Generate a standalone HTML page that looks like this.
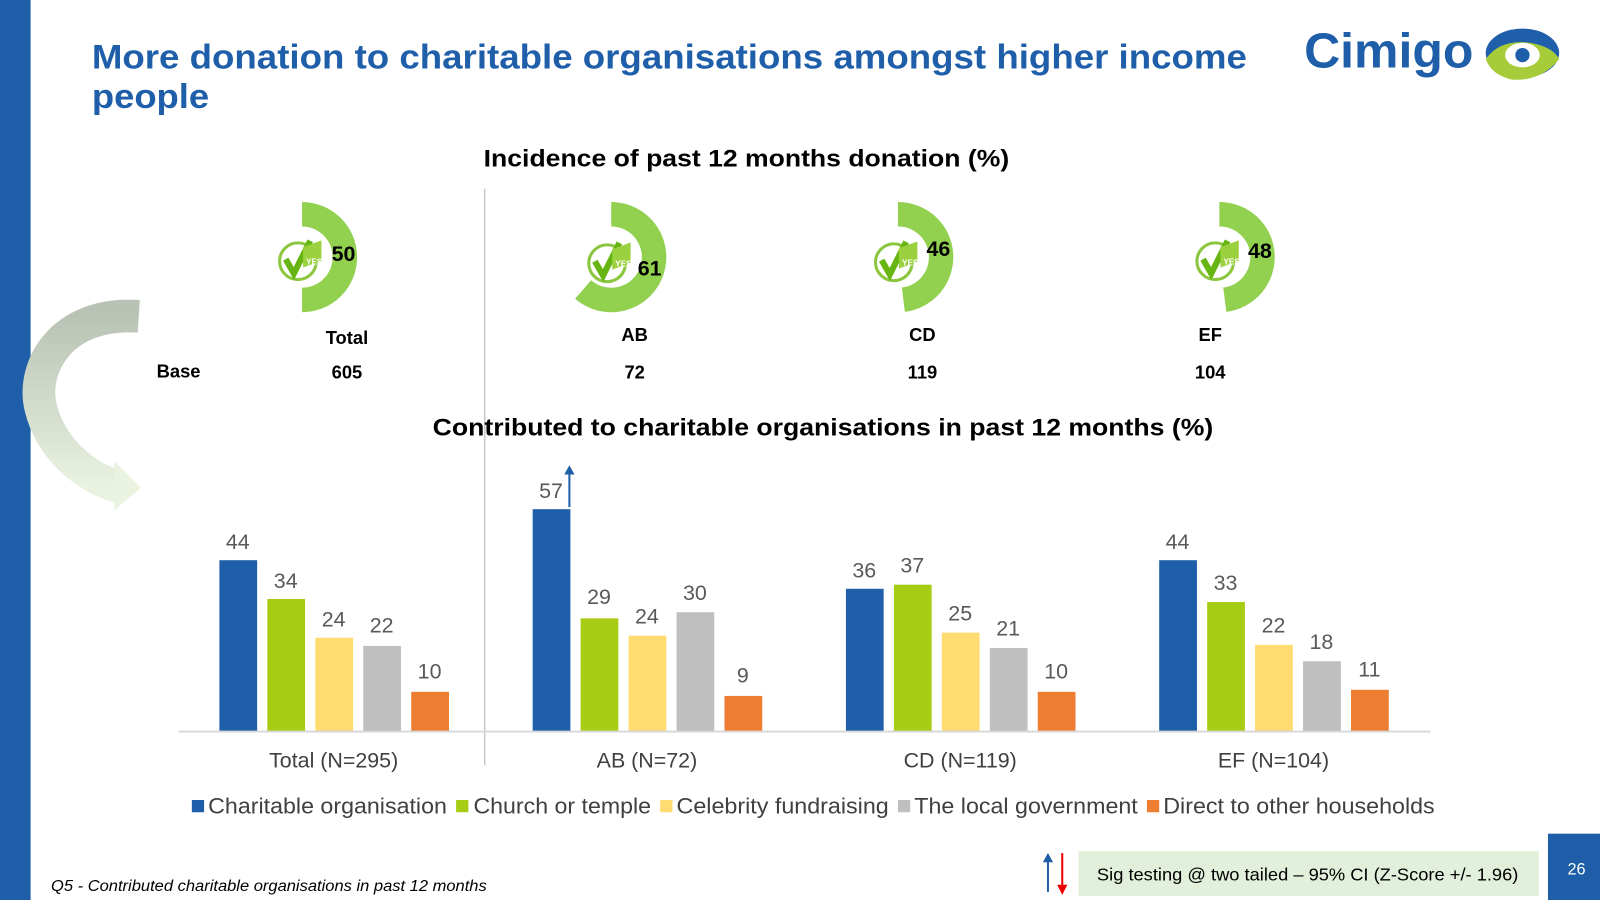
<!DOCTYPE html>
<html><head><meta charset="utf-8"><style>html,body{margin:0;padding:0;background:#fff;}svg{display:block;font-family:"Liberation Sans",Arial,sans-serif;}</style></head>
<body>
<svg width="1600" height="900" viewBox="0 0 1568 882" preserveAspectRatio="none" xmlns="http://www.w3.org/2000/svg">
<defs>
<linearGradient id="ag" x1="0" y1="0" x2="0" y2="1"><stop offset="0" stop-color="#b9c3b5"/><stop offset="1" stop-color="#eaf3e0"/></linearGradient>
<g id="chk">
<circle cx="0" cy="0" r="18" fill="#fff" stroke="#8cc63f" stroke-width="3"/>
<path d="M-12,-2 L-4,12 L12,-20" fill="none" stroke="#66b512" stroke-width="6"/>
<rect x="5" y="-12" width="18" height="20" fill="#9bd13f" transform="skewY(-20)"/>
<text x="8" y="3" font-size="8" fill="#fff" font-weight="bold">YES</text>
</g>
</defs>
<rect x="0" y="0" width="30" height="882" fill="#1F5FAA"/>
<text x="90" y="67" font-size="34" font-weight="bold" fill="#1F5FAA" textLength="1132" lengthAdjust="spacingAndGlyphs">More donation to charitable organisations amongst higher income</text>
<text x="90" y="106" font-size="34" font-weight="bold" fill="#1F5FAA" textLength="115" lengthAdjust="spacingAndGlyphs">people</text>
<!-- logo -->
<text x="1278" y="66" font-size="48" font-weight="bold" fill="#1F5FAA" textLength="166" lengthAdjust="spacingAndGlyphs">Cimigo</text>
<ellipse cx="1492" cy="52" rx="36" ry="24" fill="#1F5FAA"/>
<path d="M1456,58 Q1470,38 1500,42 Q1522,46 1528,58 Q1510,80 1482,78 Q1462,74 1456,58Z" fill="#a7cc3a"/>
<ellipse cx="1492" cy="54" rx="17" ry="12" fill="#fff"/>
<circle cx="1492" cy="54" r="7" fill="#1F5FAA"/>
<text x="474" y="163" font-size="24" font-weight="bold" fill="#000" textLength="515" lengthAdjust="spacingAndGlyphs">Incidence of past 12 months donation (%)</text>
<line x1="475" y1="185" x2="475" y2="750" stroke="#c8c8c8" stroke-width="1.5"/>
<!-- donuts -->
<path d="M296,198 A54,54 0 0 1 296,306 L296,282 A30,30 0 0 0 296,222 Z" fill="#92d050"/>
<path d="M599,198 A54,54 0 1 1 563.6,292.8 L579.3,274.6 A30,30 0 1 0 599,222 Z" fill="#92d050"/>
<path d="M880,198 A54,54 0 0 1 886.8,305.6 L883.8,281.8 A30,30 0 0 0 880,222 Z" fill="#92d050"/>
<path d="M1195,198 A54,54 0 0 1 1201.8,305.6 L1198.8,281.8 A30,30 0 0 0 1195,222 Z" fill="#92d050"/>
<use href="#chk" x="292" y="256"/><use href="#chk" x="595" y="258"/><use href="#chk" x="876" y="257"/><use href="#chk" x="1191" y="256"/>
<g font-size="21" font-weight="bold" fill="#000">
<text x="325" y="256">50</text><text x="625" y="270">61</text><text x="908" y="251">46</text><text x="1223" y="253">48</text>
</g>
<g font-size="18" font-weight="bold" fill="#000" text-anchor="middle">
<text x="340" y="337">Total</text><text x="622" y="334">AB</text><text x="904" y="334">CD</text><text x="1186" y="334">EF</text>
<text x="175" y="370">Base</text><text x="340" y="371">605</text><text x="622" y="371">72</text><text x="904" y="371">119</text><text x="1186" y="371">104</text>
</g>
<!-- curved arrow -->
<path d="M136,310 C60,305 30,360 40,400 C50,440 85,470 120,478" fill="none" stroke="url(#ag)" stroke-width="32"/>
<polygon points="112,452 138,478 112,500" fill="#eaf3e0"/>
<text x="424" y="427" font-size="24" font-weight="bold" fill="#000" textLength="765" lengthAdjust="spacingAndGlyphs">Contributed to charitable organisations in past 12 months (%)</text>
<!-- bars -->
<g>
<rect x="215" y="549" width="37" height="168" fill="#1F5FAA"/>
<rect x="262" y="587" width="37" height="130" fill="#A7CC14"/>
<rect x="309" y="625" width="37" height="92" fill="#FFDB70"/>
<rect x="356" y="633" width="37" height="84" fill="#BFBFBF"/>
<rect x="403" y="678" width="37" height="39" fill="#ED7D31"/>
<rect x="522" y="499" width="37" height="218" fill="#1F5FAA"/>
<rect x="569" y="606" width="37" height="111" fill="#A7CC14"/>
<rect x="616" y="623" width="37" height="94" fill="#FFDB70"/>
<rect x="663" y="600" width="37" height="117" fill="#BFBFBF"/>
<rect x="710" y="682" width="37" height="35" fill="#ED7D31"/>
<rect x="829" y="577" width="37" height="140" fill="#1F5FAA"/>
<rect x="876" y="573" width="37" height="144" fill="#A7CC14"/>
<rect x="923" y="620" width="37" height="97" fill="#FFDB70"/>
<rect x="970" y="635" width="37" height="82" fill="#BFBFBF"/>
<rect x="1017" y="678" width="37" height="39" fill="#ED7D31"/>
<rect x="1136" y="549" width="37" height="168" fill="#1F5FAA"/>
<rect x="1183" y="590" width="37" height="127" fill="#A7CC14"/>
<rect x="1230" y="632" width="37" height="85" fill="#FFDB70"/>
<rect x="1277" y="648" width="37" height="69" fill="#BFBFBF"/>
<rect x="1324" y="676" width="37" height="41" fill="#ED7D31"/>
</g>
<line x1="175" y1="717" x2="1402" y2="717" stroke="#d9d9d9" stroke-width="2"/>
<g font-size="21" fill="#595959" text-anchor="middle">
<text x="233" y="538">44</text><text x="280" y="576">34</text><text x="327" y="614">24</text><text x="374" y="620">22</text><text x="421" y="665">10</text>
<text x="540" y="488">57</text><text x="587" y="592">29</text><text x="634" y="611">24</text><text x="681" y="588">30</text><text x="728" y="669">9</text>
<text x="847" y="566">36</text><text x="894" y="561">37</text><text x="941" y="608">25</text><text x="988" y="623">21</text><text x="1035" y="665">10</text>
<text x="1154" y="538">44</text><text x="1201" y="578">33</text><text x="1248" y="620">22</text><text x="1295" y="636">18</text><text x="1342" y="663">11</text>
</g>
<line x1="558" y1="497" x2="558" y2="462" stroke="#1F5FAA" stroke-width="2"/>
<polygon points="553,465 558,456 563,465" fill="#1F5FAA"/>
<g font-size="21" fill="#404040" text-anchor="middle">
<text x="327" y="752">Total (N=295)</text><text x="634" y="752">AB (N=72)</text><text x="941" y="752">CD (N=119)</text><text x="1248" y="752">EF (N=104)</text>
</g>
<g font-size="22" fill="#404040">
<rect x="188" y="784" width="12" height="12" fill="#1F5FAA"/><text x="204" y="797" textLength="234" lengthAdjust="spacingAndGlyphs">Charitable organisation</text>
<rect x="447" y="784" width="12" height="12" fill="#A7CC14"/><text x="464" y="797" textLength="174" lengthAdjust="spacingAndGlyphs">Church or temple</text>
<rect x="647" y="784" width="12" height="12" fill="#FFDB70"/><text x="663" y="797" textLength="208" lengthAdjust="spacingAndGlyphs">Celebrity fundraising</text>
<rect x="880" y="784" width="12" height="12" fill="#BFBFBF"/><text x="896" y="797" textLength="219" lengthAdjust="spacingAndGlyphs">The local government</text>
<rect x="1124" y="784" width="12" height="12" fill="#ED7D31"/><text x="1140" y="797" textLength="266" lengthAdjust="spacingAndGlyphs">Direct to other households</text>
</g>
<text x="50" y="873" font-size="15" font-style="italic" fill="#000" textLength="427" lengthAdjust="spacingAndGlyphs">Q5 - Contributed charitable organisations in past 12 months</text>
<line x1="1027" y1="874" x2="1027" y2="842" stroke="#1F5FAA" stroke-width="2"/><polygon points="1022,845 1027,836 1032,845" fill="#1F5FAA"/>
<line x1="1041" y1="836" x2="1041" y2="870" stroke="#e00" stroke-width="2"/><polygon points="1036,867 1041,877 1046,867" fill="#e00"/>
<rect x="1057" y="834" width="451" height="44" fill="#E2EFDA"/>
<text x="1075" y="863" font-size="17" fill="#000" textLength="413" lengthAdjust="spacingAndGlyphs">Sig testing @ two tailed – 95% CI (Z-Score +/- 1.96)</text>
<rect x="1517" y="817" width="51" height="65" fill="#1F5FAA"/>
<text x="1545" y="857" font-size="16" text-anchor="middle" fill="#fff">26</text>
</svg>
</body></html>
